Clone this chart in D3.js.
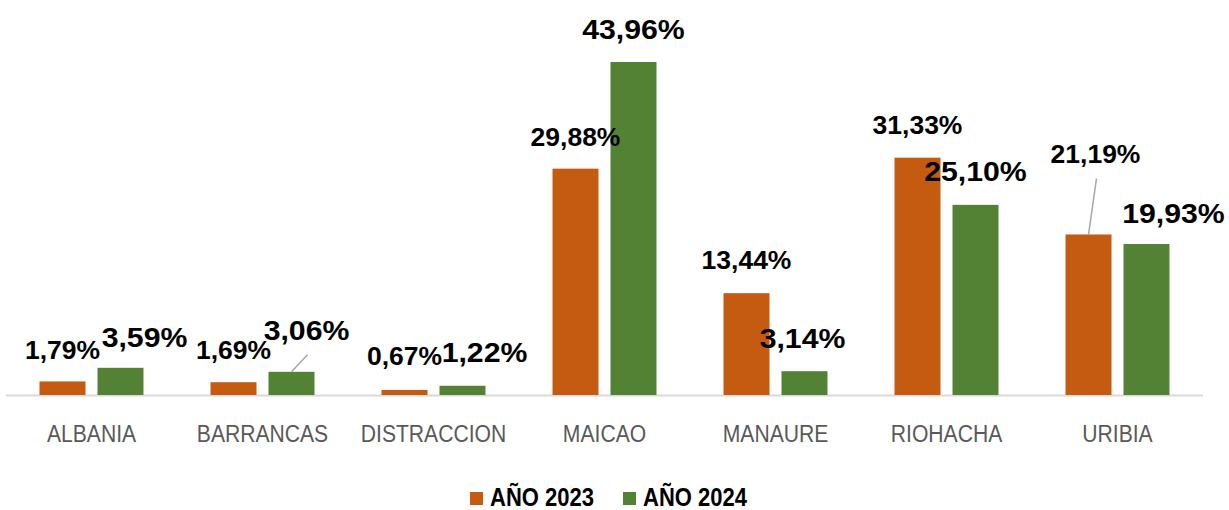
<!DOCTYPE html>
<html>
<head>
<meta charset="utf-8">
<script src="https://cdn.jsdelivr.net/npm/d3@7"></script>
<style>
    body { margin: 0; background: #fff; }
    #chart { width: 1229px; height: 510px; }
    .cat-label { font-family: "Liberation Sans", Arial, sans-serif; font-size: 24px; fill: #595959; }
    .val-label { font-family: "Liberation Sans", Arial, sans-serif; font-weight: bold; fill: #000; }
    .legend-text { font-family: "Liberation Sans", Arial, sans-serif; font-weight: bold; font-size: 25px; fill: #000; }
</style>
</head>
<body>
<div id="chart"></div>
<script>
// data
var categories = ["ALBANIA", "BARRANCAS", "DISTRACCION", "MAICAO", "MANAURE", "RIOHACHA", "URIBIA"];
var seriesNames = ["AÑO 2023", "AÑO 2024"];
var values2023 = [1.79, 1.69, 0.67, 29.88, 13.44, 31.33, 21.19];
var values2024 = [3.59, 3.06, 1.22, 43.96, 3.14, 25.10, 19.93];

// manual label nudges (dx, dy), like the ones moved by hand in the original
var nudge2023 = [[0, 1], [0, 0], [0, -2], [0, 0], [0, -1], [0, -1], [7, -48]];
var nudge2024 = [[24, 2], [15, -9], [22, -1], [0, 0], [-2, 0], [0, -1], [27, 2]];
var leaders2023 = [false, false, false, false, false, false, true];
var leaders2024 = [false, true, false, false, false, false, false];

var colors = ["#C55A11", "#548235"];

function fmt(v) {
    return v.toFixed(2).replace(".", ",") + "%";
}

function drawChart(id) {
    var width = 1229, height = 510;
    var left = 6, right = 1203, baseline = 395;

    var svg = d3.select("#" + id)
        .append("svg")
        .attr("width", width)
        .attr("height", height);

    var x0 = d3.scaleBand()
        .domain(categories)
        .range([left, right])
        .padding(0);

    var x1 = d3.scaleBand()
        .domain(seriesNames)
        .range([0, x0.bandwidth()])
        .paddingInner(0.207)
        .paddingOuter(0.578);

    var y = d3.scaleLinear()
        .domain([0, 43.96])
        .range([baseline, 62]);

    var rows = categories.map(function (c, i) {
        return {
            cat: c,
            items: [
                { s: seriesNames[0], v: values2023[i], n: nudge2023[i], lead: leaders2023[i], size: 25, sx: 1.06, color: colors[0] },
                { s: seriesNames[1], v: values2024[i], n: nudge2024[i], lead: leaders2024[i], size: 28, sx: 1.08, color: colors[1] }
            ]
        };
    });

    // axis line
    svg.append("line")
        .attr("x1", left).attr("x2", right)
        .attr("y1", baseline + 0.5).attr("y2", baseline + 0.5)
        .style("stroke", "#d9d9d9")
        .style("stroke-width", 2);

    var groups = svg.selectAll(".cat")
        .data(rows)
        .enter().append("g")
        .attr("class", "cat")
        .attr("transform", d => "translate(" + x0(d.cat) + ",0)");

    groups.selectAll("rect")
        .data(d => d.items)
        .enter().append("rect")
        .attr("x", d => x1(d.s))
        .attr("width", x1.bandwidth())
        .attr("y", d => y(d.v))
        .attr("height", d => baseline - y(d.v))
        .style("fill", d => d.color);

    // leader lines for the moved labels
    groups.selectAll(".leader")
        .data(d => d.items.filter(it => it.lead))
        .enter().append("line")
        .attr("class", "leader")
        .attr("x1", d => x1(d.s) + x1.bandwidth() / 2 + d.n[0] + 1)
        .attr("y1", d => y(d.v) - 23 + d.n[1] + 15)
        .attr("x2", d => x1(d.s) + x1.bandwidth() / 2)
        .attr("y2", d => y(d.v))
        .style("stroke", "#a6a6a6")
        .style("stroke-width", 1.5);

    groups.selectAll(".val-label")
        .data(d => d.items)
        .enter().append("text")
        .attr("class", "val-label")
        .attr("transform", d => "translate(" + (x1(d.s) + x1.bandwidth() / 2 + d.n[0]) + "," + (y(d.v) - 23 + d.n[1]) + ") scale(" + d.sx + ",1)")
        .attr("text-anchor", "middle")
        .style("font-size", d => d.size + "px")
        .text(d => fmt(d.v));

    svg.selectAll(".cat-label")
        .data(categories)
        .enter().append("text")
        .attr("class", "cat-label")
        .attr("transform", d => "translate(" + (x0(d) + x0.bandwidth() / 2) + ",442) scale(0.88,1)")
        .attr("text-anchor", "middle")
        .text(d => d);

    // legend
    var legend = svg.append("g").attr("class", "legend");
    var legendX = [470, 623];
    var keys = legend.selectAll(".key")
        .data(seriesNames)
        .enter().append("g")
        .attr("class", "key")
        .attr("transform", (d, i) => "translate(" + legendX[i] + ",0)");

    keys.append("rect")
        .attr("x", 0).attr("y", 492)
        .attr("width", 13).attr("height", 13)
        .style("fill", (d, i) => colors[i]);

    keys.append("text")
        .attr("class", "legend-text")
        .attr("transform", "translate(20,506) scale(0.88,1)")
        .text(d => d);
}

drawChart("chart");
</script>
</body>
</html>
